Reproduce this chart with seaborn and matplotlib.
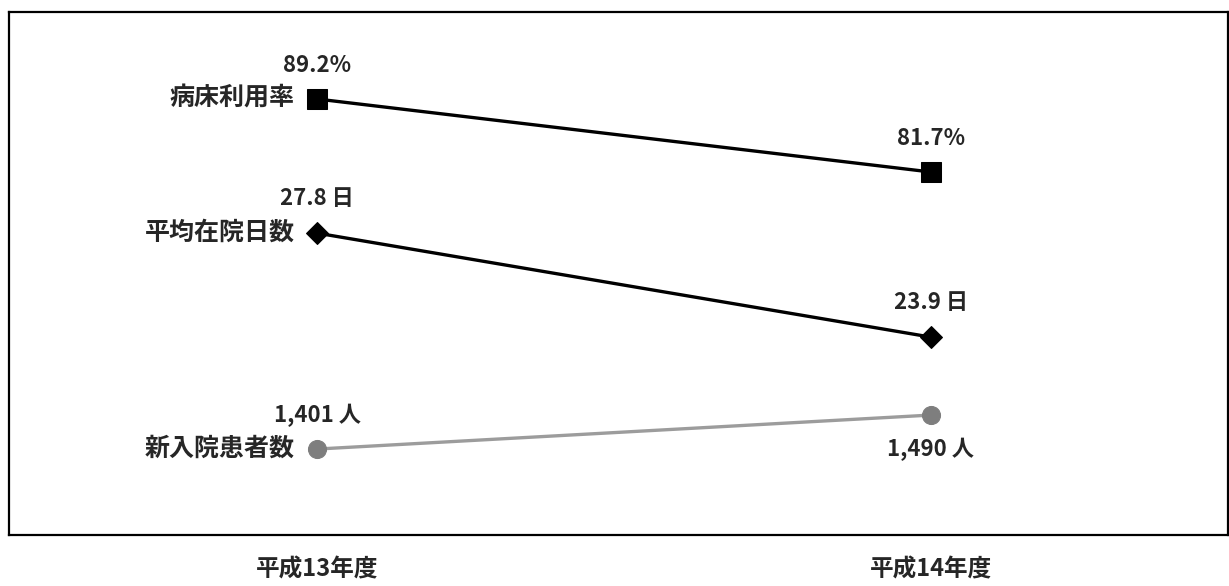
import matplotlib
matplotlib.use('Agg')
import matplotlib.pyplot as plt
import seaborn as sns
import pandas as pd

# data
years = ['平成13年度', '平成14年度']
series_names = ['病床利用率', '平均在院日数', '新入院患者数']
bed_rate = [89.2, 81.7]
avg_stay = [27.8, 23.9]
new_patients = [1401, 1490]
bed_rate_labels = ['89.2%', '81.7%']
avg_stay_labels = ['27.8 日', '23.9 日']
new_patients_labels = ['1,401 人', '1,490 人']

sns.set_style('white')
plt.rcParams['font.family'] = ['Noto Sans CJK JP', 'DejaVu Sans']

fig = plt.figure(figsize=(12.29, 5.86), dpi=100)
ax = fig.add_axes([0.0073, 0.087, 0.9919, 0.8925])

# each series gets its own hidden y scale
styles = [
    # values, labels, ylim, marker, size, line colour, marker colour, label offsets (pt)
    (bed_rate, bed_rate_labels, (44.4, 98.14), 's', 14, '#000000', '#000000', [24, 24]),
    (avg_stay, avg_stay_labels, (16.48, 36.09), 'D', 11, '#000000', '#000000', [25, 25]),
    (new_patients, new_patients_labels, (1176, 2545), 'o', 13, '#9c9c9c', '#7e7e7e', [24, -25]),
]

x = [0, 1]
for i, (vals, labs, ylim, mk, ms, col, mcol, offs) in enumerate(styles):
    a = ax.twinx()
    df = pd.DataFrame({'x': x, 'y': vals})
    sns.lineplot(data=df, x='x', y='y', ax=a, color=col, lw=2.4,
                 marker=mk, markersize=ms, markeredgecolor=mcol,
                 markerfacecolor=mcol)
    a.set_ylim(*ylim)
    a.set_yticks([])
    a.set_ylabel('')
    a.set_xlabel('')
    for s in a.spines.values():
        s.set_visible(False)
    for xi, v, lab, off in zip(x, vals, labs, offs):
        a.annotate(lab, (xi, v), xytext=(0, off), textcoords='offset points',
                   ha='center', va='center', fontsize=16, fontweight='bold')
    a.annotate(series_names[i], (x[0], vals[0]), xytext=(-16, 0),
               textcoords='offset points', ha='right', va='center',
               fontsize=18, fontweight='bold')

ax.set_xlim(-0.502, 1.484)
ax.set_ylim(0, 1)
ax.set_yticks([])
ax.set_xticks(x)
ax.set_xticklabels(years, fontsize=17, fontweight='bold')
ax.tick_params(axis='x', length=0, pad=16)
for s in ax.spines.values():
    s.set_visible(True)
    s.set_color('black')
    s.set_linewidth(1.6)

fig.savefig('out.png', dpi=100)
